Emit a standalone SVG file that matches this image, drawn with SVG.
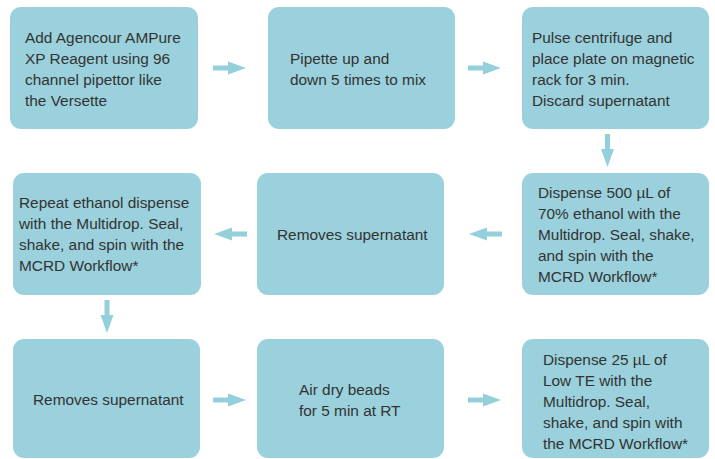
<svg xmlns="http://www.w3.org/2000/svg" width="715" height="459" viewBox="0 0 715 459">
<defs>
<style>
.box{fill:#9ad1dc;}
.t{font-family:"Liberation Sans",Arial,sans-serif;font-size:15.4px;fill:#333333;}
.arr{fill:#94d0dc;}
</style>
<path id="ar" class="arr" d="M0,-2.5 H15 V-6.5 L33,0 L15,6.5 V2.5 H0 Z"/>
</defs>
<rect width="715" height="459" fill="#ffffff"/>
<g id="n1"><rect class="box" x="10" y="7" width="188" height="122" rx="11"/>
<text class="t" x="25" y="43">Add Agencour AMPure</text><text class="t" x="25" y="64">XP Reagent using 96</text><text class="t" x="25" y="85">channel pipettor like</text><text class="t" x="25" y="106">the Versette</text></g>
<g id="n2"><rect class="box" x="268" y="7" width="187" height="122" rx="11"/>
<text class="t" x="290" y="64">Pipette up and</text><text class="t" x="290" y="85">down 5 times to mix</text></g>
<g id="n3"><rect class="box" x="522" y="7" width="187" height="122" rx="11"/>
<text class="t" x="532" y="43">Pulse centrifuge and</text><text class="t" x="532" y="64">place plate on magnetic</text><text class="t" x="532" y="85">rack for 3 min.</text><text class="t" x="532" y="106">Discard supernatant</text></g>
<g id="n4"><rect class="box" x="13" y="173" width="188" height="122" rx="11"/>
<text class="t" x="19" y="208">Repeat ethanol dispense</text><text class="t" x="19" y="229">with the Multidrop. Seal,</text><text class="t" x="19" y="250">shake, and spin with the</text><text class="t" x="19" y="271">MCRD Workflow*</text></g>
<g id="n5"><rect class="box" x="257" y="173" width="187" height="122" rx="11"/>
<text class="t" x="277" y="240">Removes supernatant</text></g>
<g id="n6"><rect class="box" x="522" y="173" width="187" height="122" rx="11"/>
<text class="t" x="538" y="198">Dispense 500 µL of</text><text class="t" x="538" y="219">70% ethanol with the</text><text class="t" x="538" y="240">Multidrop. Seal, shake,</text><text class="t" x="538" y="261">and spin with the</text><text class="t" x="538" y="282">MCRD Workflow*</text></g>
<g id="n7"><rect class="box" x="13" y="339" width="187" height="119" rx="11"/>
<text class="t" x="33" y="405">Removes supernatant</text></g>
<g id="n8"><rect class="box" x="257" y="339" width="187" height="119" rx="11"/>
<text class="t" x="299" y="395">Air dry beads</text><text class="t" x="299" y="416">for 5 min at RT</text></g>
<g id="n9"><rect class="box" x="522" y="339" width="187" height="119" rx="11"/>
<text class="t" x="543" y="365">Dispense 25 µL of</text><text class="t" x="543" y="386">Low TE with the</text><text class="t" x="543" y="407">Multidrop. Seal,</text><text class="t" x="543" y="428">shake, and spin with</text><text class="t" x="543" y="449">the MCRD Workflow*</text></g>
<g id="connectors">
<use href="#ar" transform="translate(213,68)"/>
<use href="#ar" transform="translate(468,68)"/>
<use href="#ar" transform="translate(607.5,134) rotate(90)"/>
<use href="#ar" transform="translate(502,234) rotate(180)"/>
<use href="#ar" transform="translate(247,234) rotate(180)"/>
<use href="#ar" transform="translate(107,300) rotate(90)"/>
<use href="#ar" transform="translate(213,400)"/>
<use href="#ar" transform="translate(468,400)"/>
</g>
</svg>
